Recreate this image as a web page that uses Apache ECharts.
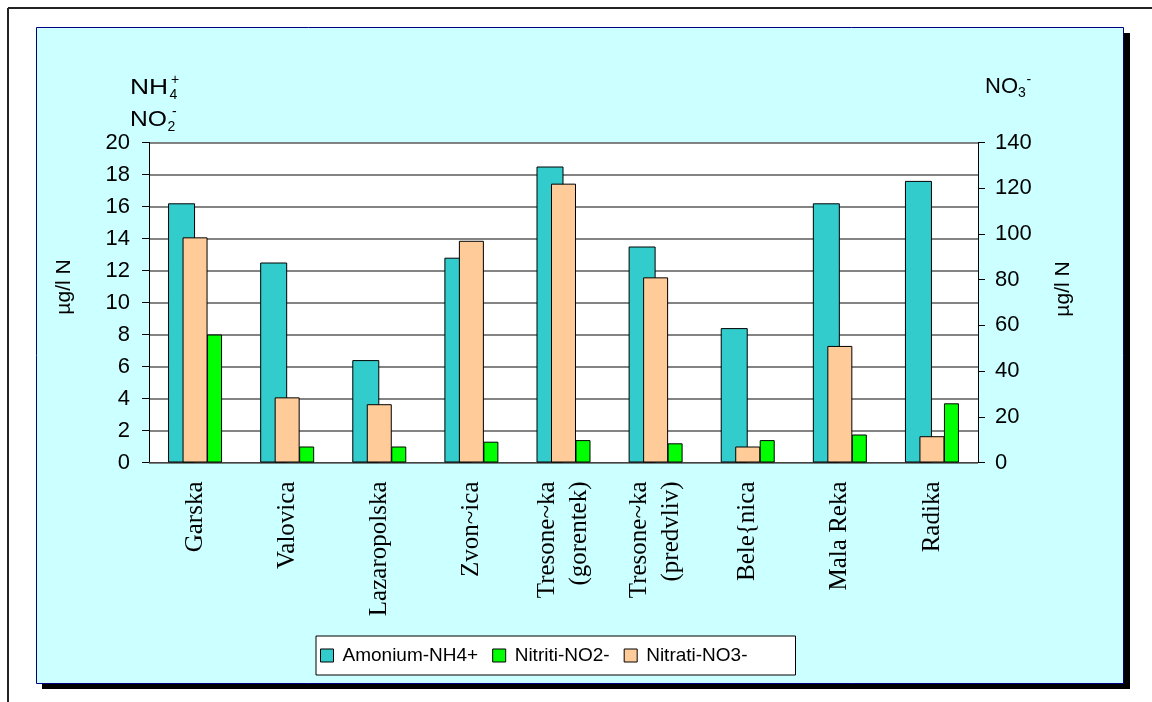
<!DOCTYPE html>
<html>
<head>
<meta charset="utf-8">
<title>Amonium, nitriti i nitrati</title>
<script src="https://cdn.jsdelivr.net/npm/echarts@6/dist/echarts.min.js"></script>
<style>
  html, body { margin: 0; padding: 0; background: #fff; }
  #chart { width: 1152px; height: 702px; }
</style>
</head>
<body>
<div id="chart"></div>
<script>
// Sampling sites along the category axis
const categories = [
  'Garska', 'Valovica', 'Lazaropolska', 'Zvon~ica',
  'Tresone~ka\n(gorentek)', 'Tresone~ka\n(predvliv)',
  'Bele{nica', 'Mala Reka', 'Radika'
];

// Concentrations, µg/l N
const amonium = [16.2, 12.5, 6.4, 12.8, 18.5, 13.5, 8.4, 16.2, 17.6];   // NH4+ (left axis)
const nitriti = [8.0, 1.0, 1.0, 1.3, 1.4, 1.2, 1.4, 1.75, 3.7];          // NO2- (left axis)
const nitrati = [98.5, 28.5, 25.5, 97, 122, 81, 7, 51, 11.5];            // NO3- (right axis)

// Tick values of both value axes
const leftTicks = [0, 2, 4, 6, 8, 10, 12, 14, 16, 18, 20];
const rightTicks = [0, 20, 40, 60, 80, 100, 120, 140];

const seriesNames = ['Amonium-NH4+', 'Nitriti-NO2-', 'Nitrati-NO3-'];

const chart = echarts.init(document.getElementById('chart'), null, { renderer: 'canvas' });

const numFont = { fontFamily: 'Liberation Sans, Arial, sans-serif', color: '#000' };

// plain text element; sx widens the glyphs horizontally
function txt(x, y, text, size, sx) {
  return {
    type: 'text', x: x, y: y, z: 100, scaleX: sx || 1,
    style: {
      text: text, fill: '#000', font: size + 'px "Liberation Sans", Arial, sans-serif',
      align: 'left', verticalAlign: 'middle'
    }
  };
}

const option = {
  backgroundColor: '#fff',
  animation: false,
  graphic: [
    // outer frame (top and left edges)
    { type: 'line', z: -2, shape: { x1: 8, y1: 8, x2: 1152, y2: 8 }, style: { stroke: '#222', lineWidth: 2 } },
    { type: 'line', z: -2, shape: { x1: 8, y1: 8, x2: 8, y2: 702 }, style: { stroke: '#222', lineWidth: 2 } },
    // drop shadow and chart area
    { type: 'rect', z: -2, shape: { x: 42, y: 33, width: 1088, height: 656 }, style: { fill: '#000' } },
    { type: 'rect', z: -1, shape: { x: 36.5, y: 27.5, width: 1087, height: 656 }, style: { fill: '#CCFFFF', stroke: '#000080', lineWidth: 1 } },
    // axis headers with sub/superscripts
    txt(130, 87.5, 'NH', 22, 1.2),
    txt(169.5, 95, '4', 14),
    txt(171, 80.5, '+', 14),
    txt(130, 119.5, 'NO', 22, 1.12),
    txt(167.5, 127, '2', 14),
    txt(172, 112.5, '-', 14),
    txt(985, 87, 'NO', 22),
    txt(1018, 93, '3', 14),
    txt(1026.5, 80, '-', 14),
    // unit labels
    { type: 'text', x: 64, y: 287, rotation: Math.PI / 2, z: 100,
      style: { text: 'µg/l N', fill: '#000', font: '21px "Liberation Sans", Arial, sans-serif', align: 'center', verticalAlign: 'middle' } },
    { type: 'text', x: 1063, y: 289, rotation: Math.PI / 2, z: 100,
      style: { text: 'µg/l N', fill: '#000', font: '21px "Liberation Sans", Arial, sans-serif', align: 'center', verticalAlign: 'middle' } }
  ],
  legend: {
    data: seriesNames,
    left: 316,
    top: 636,
    orient: 'horizontal',
    padding: [10, 48, 10, 4],
    itemWidth: 13,
    itemHeight: 13,
    itemGap: 14,
    icon: 'rect',
    backgroundColor: '#fff',
    borderColor: '#000',
    borderWidth: 1,
    borderRadius: 0,
    itemStyle: { borderColor: '#000', borderWidth: 1 },
    textStyle: { fontSize: 19, fontFamily: 'Liberation Sans, Arial, sans-serif', color: '#000', padding: [0, 0, 0, 4] }
  },
  grid: {
    left: 149, right: 174, top: 142.5, bottom: 239.5,
    show: true, backgroundColor: '#fff', borderWidth: 0
  },
  xAxis: [
    {
      type: 'category',
      data: categories,
      axisLine: { lineStyle: { color: '#444', width: 1 } },
      axisTick: { length: 6, lineStyle: { color: '#444' } },
      axisLabel: {
        interval: 0, rotate: 90, margin: 19, color: '#000',
        fontFamily: 'Liberation Serif, Times New Roman, serif', fontSize: 25, lineHeight: 32
      }
    },
    { type: 'category', data: categories, show: false }
  ],
  yAxis: [
    {
      type: 'value', position: 'left',
      min: leftTicks[0], max: leftTicks[leftTicks.length - 1], interval: leftTicks[1] - leftTicks[0],
      axisLine: { show: true, lineStyle: { color: '#000' } },
      axisTick: { show: true, length: 7, lineStyle: { color: '#000' } },
      axisLabel: Object.assign({ margin: 19, fontSize: 22 }, numFont),
      splitLine: { show: true, lineStyle: { color: '#5a5a5a', width: 1.5 } }
    },
    {
      type: 'value', position: 'right',
      min: rightTicks[0], max: rightTicks[rightTicks.length - 1], interval: rightTicks[1] - rightTicks[0],
      axisLine: { show: true, lineStyle: { color: '#000' } },
      axisTick: { show: true, length: 7, lineStyle: { color: '#000' } },
      axisLabel: Object.assign({ margin: 17, fontSize: 22 }, numFont),
      splitLine: { show: false }
    }
  ],
  series: [
    {
      name: seriesNames[0], type: 'bar', xAxisIndex: 0, yAxisIndex: 0,
      data: amonium, barWidth: 27, barGap: '44.4%',
      itemStyle: { color: '#33CCCC', borderColor: '#000', borderWidth: 1 }
    },
    {
      name: seriesNames[1], type: 'bar', xAxisIndex: 0, yAxisIndex: 0,
      data: nitriti, barWidth: 15, barGap: '44.4%',
      itemStyle: { color: '#00FF00', borderColor: '#000', borderWidth: 1 }
    },
    {
      name: seriesNames[2], type: 'bar', xAxisIndex: 1, yAxisIndex: 1,
      data: nitrati, barWidth: 25,
      itemStyle: { color: '#FFCC99', borderColor: '#000', borderWidth: 1 }
    }
  ]
};

chart.setOption(option);
</script>
</body>
</html>
